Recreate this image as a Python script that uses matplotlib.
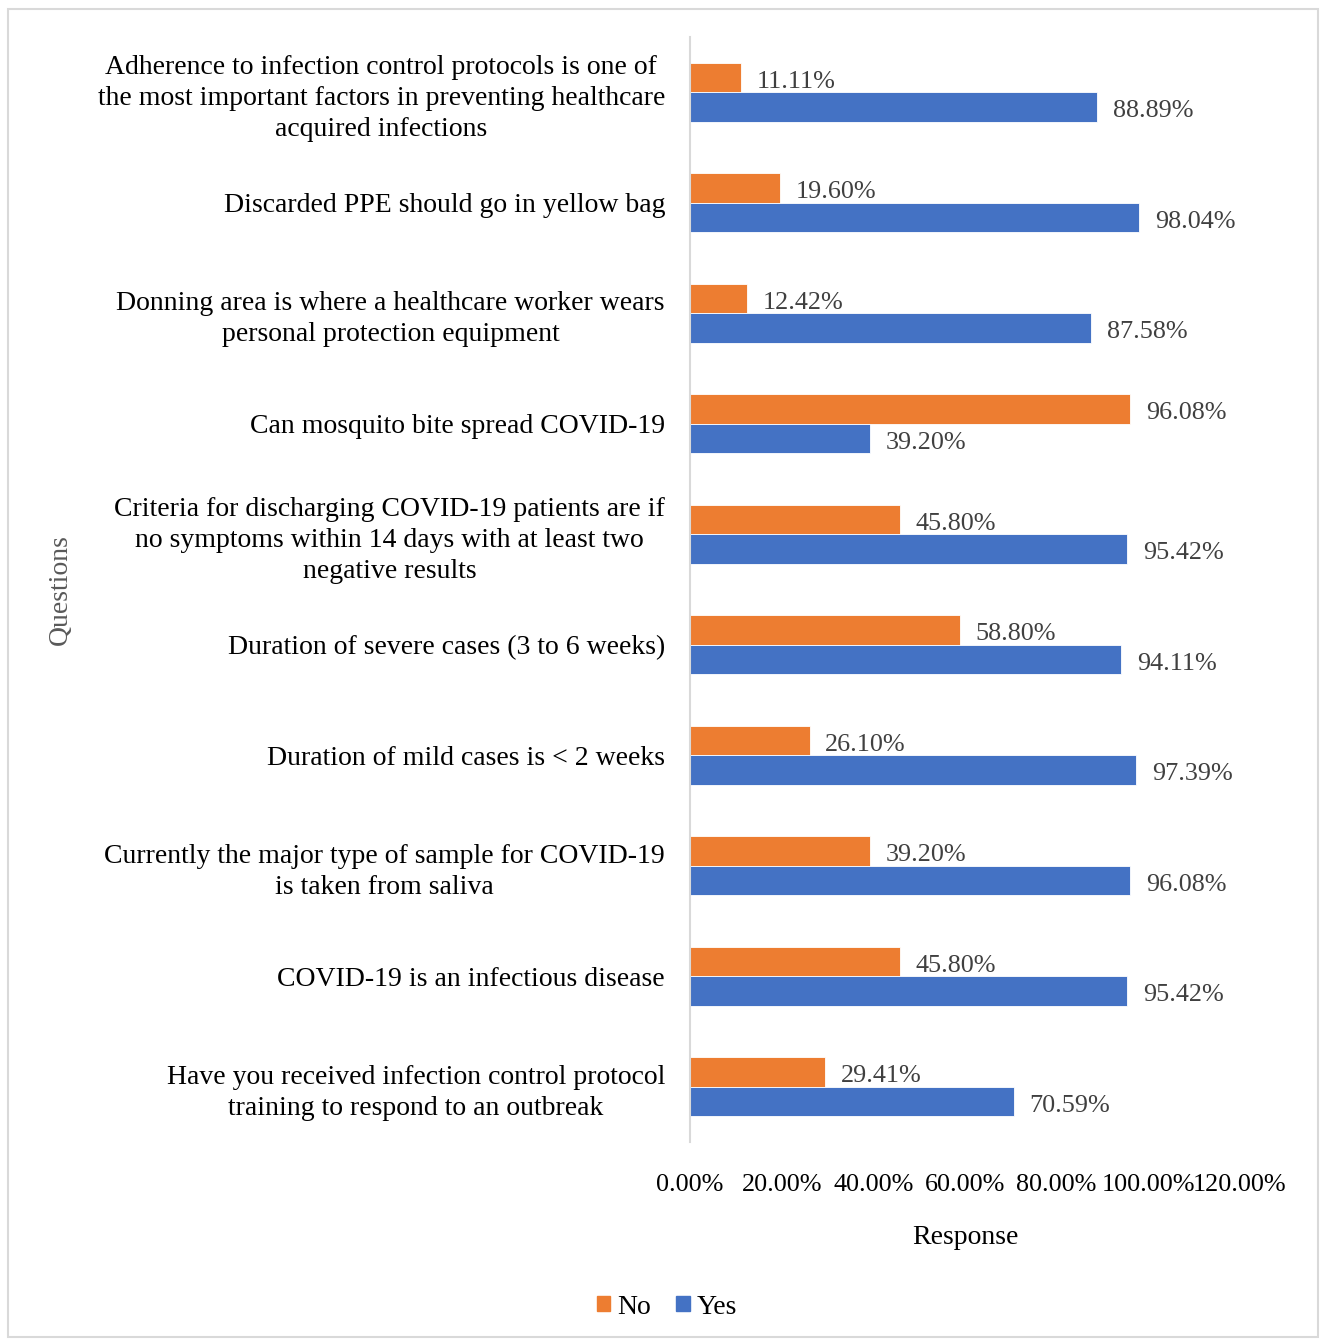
import matplotlib.pyplot as plt
from matplotlib.patches import Patch, Rectangle

plt.rcParams['font.family'] = ['Liberation Serif', 'DejaVu Serif']

# Дані з рисунка (зверху вниз)
questions = [
    "Adherence to infection control protocols is one of\nthe most important factors in preventing healthcare\nacquired infections",
    "Discarded PPE should go in yellow bag",
    "Donning area is where a healthcare worker wears\npersonal protection equipment",
    "Can mosquito bite spread COVID-19",
    "Criteria for discharging COVID-19 patients are if\nno symptoms within 14 days with at least two\nnegative results",
    "Duration of severe cases (3 to 6 weeks)",
    "Duration of mild cases is < 2 weeks",
    "Currently the major type of sample for COVID-19\nis taken from saliva",
    "COVID-19 is an infectious disease",
    "Have you received infection control protocol\ntraining to respond to an outbreak",
]
no_vals = [11.11, 19.60, 12.42, 96.08, 45.80, 58.80, 26.10, 39.20, 45.80, 29.41]
yes_vals = [88.89, 98.04, 87.58, 39.20, 95.42, 94.11, 97.39, 96.08, 95.42, 70.59]
x_ticks = [0, 20, 40, 60, 80, 100, 120]

orange = '#ED7D31'
blue = '#4472C4'

fig = plt.figure(figsize=(13.22, 13.40), dpi=100)
ax = fig.add_axes([690 / 1322, 1 - 1142 / 1340, 550 / 1322, 1105 / 1340])

y = list(range(len(questions)))
h = 0.265
y_no = [i - h / 2 for i in y]
y_yes = [i + h / 2 for i in y]
ax.barh(y_no, no_vals, height=h, color=orange, edgecolor='white', linewidth=0.6)
ax.barh(y_yes, yes_vals, height=h, color=blue, edgecolor='white', linewidth=0.6)

# підписи значень
for yy, v in zip(y_no, no_vals):
    ax.text(v + 3.4, yy + 0.015, f"{v:.2f}%", va='center_baseline', ha='left', fontsize=18.8, color='#404040')
for yy, v in zip(y_yes, yes_vals):
    ax.text(v + 3.4, yy + 0.015, f"{v:.2f}%", va='center_baseline', ha='left', fontsize=18.8, color='#404040')

ax.set_ylim(len(questions) - 0.5, -0.5)
ax.set_xlim(0, 120)
ax.set_yticks(y)
ax.set_yticklabels(questions, fontsize=20)
for lbl in ax.get_yticklabels():
    lbl.set_multialignment('center')
    lbl.set_linespacing(1.32)
ax.set_xticks(x_ticks)
ax.set_xticklabels([f"{t:.2f}%" for t in x_ticks], fontsize=18.8)
ax.tick_params(axis='both', length=0)
ax.tick_params(axis='x', pad=23)
ax.tick_params(axis='y', pad=18)

for s in ['top', 'right', 'bottom']:
    ax.spines[s].set_visible(False)
ax.spines['left'].set_color('#D9D9D9')
ax.spines['left'].set_linewidth(1.5)

ax.set_xlabel("Response", fontsize=20, labelpad=21)
fig.text(60 / 1322, 1 - 590 / 1340, "Questions", rotation=90, ha='center', va='center',
         fontsize=20, color='#595959')

handles = [Patch(color=orange, label='No'), Patch(color=blue, label='Yes')]
fig.legend(handles=handles, loc='center', bbox_to_anchor=(667 / 1322, 1 - 1307 / 1340), ncol=2,
           frameon=False, fontsize=20, handlelength=0.48, handleheight=0.48,
           handletextpad=0.25, columnspacing=0.9)

fig.patches.append(Rectangle((8 / 1322, 3 / 1340), 1310 / 1322, 1328 / 1340,
                             transform=fig.transFigure, fill=False, edgecolor='#D9D9D9', linewidth=1.5))

fig.savefig('out.png', dpi=100)
